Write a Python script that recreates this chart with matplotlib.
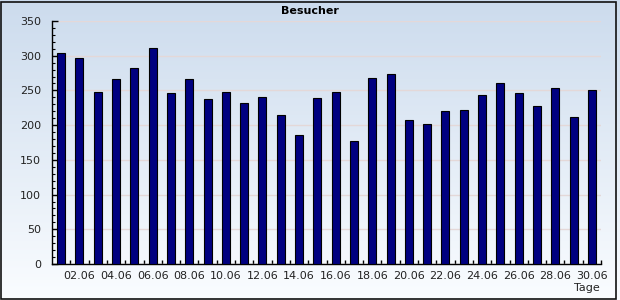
import numpy as np
import matplotlib
matplotlib.use("Agg")
import matplotlib.pyplot as plt
from matplotlib.ticker import MultipleLocator, FixedLocator
from matplotlib.patches import Rectangle

# Besucher pro Tag im Juni
tage = np.arange(1, 31)
besucher = [304, 297, 248, 266, 282, 311, 246, 266, 238, 248,
            232, 240, 215, 186, 239, 248, 177, 268, 274, 207,
            202, 220, 222, 243, 261, 246, 228, 254, 212, 251]
tick_tage = tage[1::2]
tick_labels = ["%02d.06" % t for t in tick_tage]

plt.rcParams['font.family'] = ['DejaVu Sans']
fig = plt.figure(figsize=(6.2, 3.0), dpi=100)

# Hintergrund mit Verlauf (hellblau oben, fast weiss unten)
bg = fig.add_axes([0, 0, 1, 1], zorder=-10)
grad = np.linspace(0, 1, 256).reshape(-1, 1)
top = np.array([0.80, 0.86, 0.93])
bottom = np.array([0.98, 0.99, 1.0])
img = top + (bottom - top) * grad[:, :, None]
bg.imshow(img, aspect='auto', extent=[0, 1, 0, 1], origin='upper')
bg.set_axis_off()
fig.patches.append(Rectangle((0.001, 0.003), 0.993, 0.992, transform=fig.transFigure,
                             fill=False, edgecolor='#111111', linewidth=1.2))

ax = fig.add_axes([52/620, 36/300, 549/620, 243/300])
ax.patch.set_alpha(0)
ax.bar(tage, besucher, width=0.44, color='#000080', edgecolor='black', linewidth=0.8, zorder=3)

ax.set_xlim(0.5, 30.5)
ax.set_ylim(0, 350)
ax.yaxis.set_major_locator(MultipleLocator(50))
ax.yaxis.set_minor_locator(MultipleLocator(10))
ax.grid(axis='y', which='major', color='#e4d8d8', linewidth=1, zorder=0)

ax.xaxis.set_major_locator(FixedLocator(tick_tage))
ax.set_xticklabels(tick_labels)
ax.xaxis.set_minor_locator(FixedLocator(np.arange(1.5, 31, 1)))
ax.tick_params(axis='x', which='major', length=0, pad=5, labelsize=8, labelcolor='#222222')
ax.tick_params(axis='x', which='minor', direction='in', length=3, width=1)
ax.tick_params(axis='y', which='major', direction='in', length=4, width=1, pad=8,
               labelsize=8, labelcolor='#222222')
ax.tick_params(axis='y', which='minor', direction='in', length=2.2, width=0.8)

for s in ['top', 'right']:
    ax.spines[s].set_visible(False)
for s in ['left', 'bottom']:
    ax.spines[s].set_linewidth(1.0)

fig.text(0.5, 0.962, "Besucher", ha='center', va='center', fontsize=8, fontweight='bold')
fig.text(587/620, 1 - 288/300, "Tage", ha='center', va='center', fontsize=8, color='#222222')

fig.savefig("out.png", dpi=100)
